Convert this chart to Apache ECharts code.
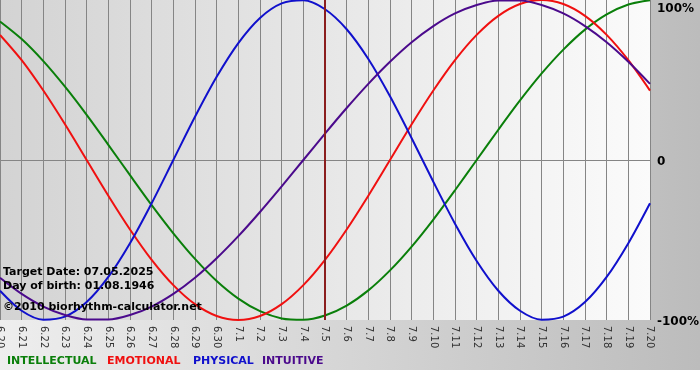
<!DOCTYPE html>
<html>
<head>
<meta charset="utf-8">
<script src="https://cdn.jsdelivr.net/npm/echarts@6/dist/echarts.min.js"></script>
<style>
html,body{margin:0;padding:0;background:#fff;}
#chart{width:700px;height:380px;}
</style>
</head>
<body>
<div id="chart"></div>
<script>
var categories = ['6.20','6.21','6.22','6.23','6.24','6.25','6.26','6.27','6.28','6.29','6.30',
  '7.1','7.2','7.3','7.4','7.5','7.6','7.7','7.8','7.9','7.10','7.11','7.12','7.13','7.14','7.15','7.16','7.17','7.18','7.19','7.20'];

var intellectual = [86.6,75.6,61.8,45.8,28.2,9.5,-9.5,-28.2,-45.8,-61.8,-75.6,-86.6,-94.5,-99.0,-99.9,-97.2,-91.0,-81.5,-69.0,-54.1,-37.2,-18.9,0,18.9,37.2,54.1,69.0,81.5,91.0,97.2,99.9];
var emotional = [78.2,62.4,43.4,22.3,0,-22.3,-43.4,-62.4,-78.2,-90.1,-97.5,-100,-97.5,-90.1,-78.2,-62.4,-43.4,-22.3,0,22.3,43.4,62.4,78.2,90.1,97.5,100,97.5,90.1,78.2,62.4,43.4];
var physical = [-81.7,-94.2,-99.8,-97.9,-88.8,-73.1,-52.0,-27.0,0,27.0,52.0,73.1,88.8,97.9,99.8,94.2,81.7,63.1,39.8,13.6,-13.6,-39.8,-63.1,-81.7,-94.2,-99.8,-97.9,-88.8,-73.1,-52.0,-27.0];
var intuitive = [-73.6,-83.7,-91.6,-96.9,-99.7,-99.7,-96.9,-91.6,-83.7,-73.6,-61.4,-47.6,-32.5,-16.5,0,16.5,32.5,47.6,61.4,73.6,83.7,91.6,96.9,99.7,99.7,96.9,91.6,83.7,73.6,61.4,47.6];

var targetDay = '7.5';
var yTicks = [-100, 0, 100];
var infoLines = ['Target Date: 07.05.2025', 'Day of birth: 01.08.1946', '\u00a92010 biorhythm-calculator.net'];
var legendNames = ['INTELLECTUAL', 'EMOTIONAL', 'PHYSICAL', 'INTUITIVE'];

var colors = {INTELLECTUAL:'#0a7f0a', EMOTIONAL:'#f01010', PHYSICAL:'#1010cc', INTUITIVE:'#4b0a8c'};
var legendX = [7, 107, 193, 262];
var infoY = [272, 286, 307];

var chart = echarts.init(document.getElementById('chart'));
var font = '"DejaVu Sans", Verdana, sans-serif';

var graphics = [
  {type:'rect', z:-100, shape:{x:0,y:0,width:700,height:370},
   style:{fill:new echarts.graphic.LinearGradient(0,0,1,0,[{offset:0,color:'#eeeeee'},{offset:1,color:'#bcbcbc'}])}},
  {type:'rect', z:-99, shape:{x:0,y:0,width:650,height:320},
   style:{fill:new echarts.graphic.LinearGradient(0,0,1,0,[{offset:0,color:'#d3d3d3'},{offset:1,color:'#fbfbfb'}])}}
];
infoLines.forEach(function(t,i){
  graphics.push({type:'text', z:100, left:3, top:infoY[i]-5,
    style:{text:t, fill:'#000', font:'bold 11px ' + font}});
});
legendNames.forEach(function(n,i){
  graphics.push({type:'text', z:100, left:legendX[i], top:356,
    style:{text:n, fill:colors[n], font:'bold 11px ' + font}});
});

function mk(name, data){
  return {name:name, type:'line', data:data, smooth:0.3, showSymbol:false,
    lineStyle:{color:colors[name], width:2}, itemStyle:{color:colors[name]}, z:3, animation:false};
}
var series = [mk('INTELLECTUAL', intellectual), mk('EMOTIONAL', emotional), mk('PHYSICAL', physical), mk('INTUITIVE', intuitive)];
series.push({type:'line', data:[], z:5, animation:false,
  markLine:{silent:true, symbol:'none', label:{show:false}, animation:false,
    lineStyle:{color:'#8b1e1e', width:2, type:'solid'}, data:[{xAxis:targetDay}]}});

chart.setOption({
  animation:false,
  backgroundColor:'#ffffff',
  graphic:graphics,
  grid:{left:0, right:50, top:0, bottom:60, containLabel:false, outerBoundsMode:'none'},
  xAxis:{type:'category', data:categories, boundaryGap:false,
    axisLine:{show:false},
    axisTick:{show:true, length:4, lineStyle:{color:'#888'}},
    splitLine:{show:true, lineStyle:{color:'#858585', width:1}},
    axisLabel:{rotate:-90, margin:6, interval:0, color:'#333', fontSize:10, fontFamily:font, hideOverlap:false}},
  yAxis:{type:'value', position:'right', min:yTicks[0], max:yTicks[2], interval:100,
    axisLine:{show:false}, axisTick:{show:false},
    splitLine:{show:true, lineStyle:{color:['transparent','#858585','transparent'], width:1}},
    axisLabel:{margin:7, color:'#000', fontWeight:'bold', fontSize:12, fontFamily:font, padding:[4,0,0,0],
      formatter:function(v){ if(v===0) return '0'; if(v===100) return '{top|100%}'; return v+'%'; },
      rich:{top:{padding:[14,0,0,0], fontWeight:'bold', fontSize:12, fontFamily:font, color:'#000'}}}},
  series:series
});
</script>
</body>
</html>
